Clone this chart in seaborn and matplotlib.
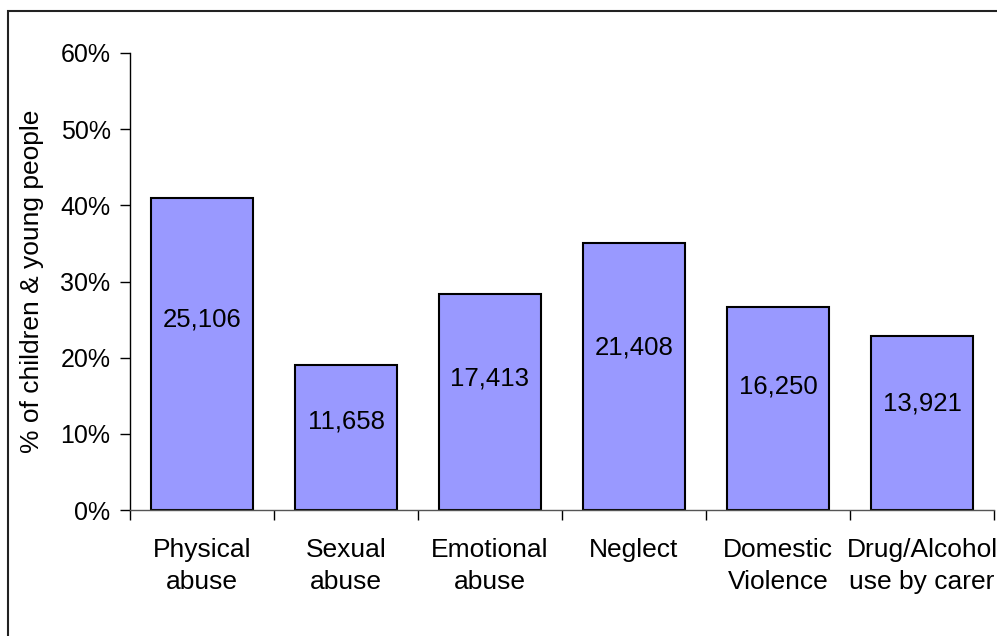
import matplotlib
matplotlib.use("Agg")
import matplotlib.pyplot as plt
import seaborn as sns
import pandas as pd
from matplotlib.patches import Rectangle
from matplotlib.ticker import FuncFormatter, FixedLocator

categories = ["Physical\nabuse", "Sexual\nabuse", "Emotional\nabuse", "Neglect",
              "Domestic\nViolence", "Drug/Alcohol\nuse by carer"]
percent = [41.0, 19.0, 28.4, 35.0, 26.6, 22.9]
counts = ["25,106", "11,658", "17,413", "21,408", "16,250", "13,921"]

sns.set_theme(style="white")
plt.rcParams['font.family'] = ['Liberation Sans', 'DejaVu Sans']
plt.rcParams['text.color'] = 'black'
plt.rcParams['xtick.color'] = 'black'
plt.rcParams['ytick.color'] = 'black'
plt.rcParams['axes.labelcolor'] = 'black'

df = pd.DataFrame({"cat": categories, "pct": percent})

fig = plt.figure(figsize=(9.97, 6.36), dpi=100)
ax = fig.add_axes([130/997, 1-510/636, (994-130)/997, (510-53)/636])

sns.barplot(data=df, x="cat", y="pct", ax=ax, color="#9999FF", saturation=1,
            width=0.71, edgecolor="black", linewidth=1.5)

for i, (p, c) in enumerate(zip(percent, counts)):
    ax.text(i, p * 0.61, c, ha="center", va="center", fontsize=18.5, color="black")

ax.set_ylim(0, 60)
ax.set_xlim(-0.5, len(categories) - 0.5)
ax.yaxis.set_major_locator(FixedLocator([0, 10, 20, 30, 40, 50, 60]))
ax.yaxis.set_major_formatter(FuncFormatter(lambda v, _: f"{v:.0f}%"))
ax.set_xlabel("")
ax.set_ylabel("% of children & young people", fontsize=19, labelpad=12)

ax.set_xticks([i for i in range(len(categories))])
ax.set_xticklabels(categories, fontsize=19, linespacing=1.42)
ax.tick_params(axis="x", length=0, pad=20)
ax.set_xticks([i - 0.5 for i in range(len(categories) + 1)], minor=True)
ax.tick_params(axis="x", which="minor", length=7, width=1, direction="out", color="black", bottom=True)
ax.tick_params(axis="y", length=7, width=1, direction="out", color="black", left=True, labelsize=18, pad=7)

for s in ["top", "right"]:
    ax.spines[s].set_visible(False)
ax.spines["left"].set_color("black")
ax.spines["left"].set_linewidth(1)
ax.spines["bottom"].set_color("#555555")
ax.spines["bottom"].set_linewidth(1)

fig.patches.append(Rectangle((8/997, -0.1), 1.2, (1 - 11/636) + 0.1,
                             transform=fig.transFigure, fill=False,
                             edgecolor="#222222", linewidth=1.5))

fig.savefig("out.png", dpi=100)
